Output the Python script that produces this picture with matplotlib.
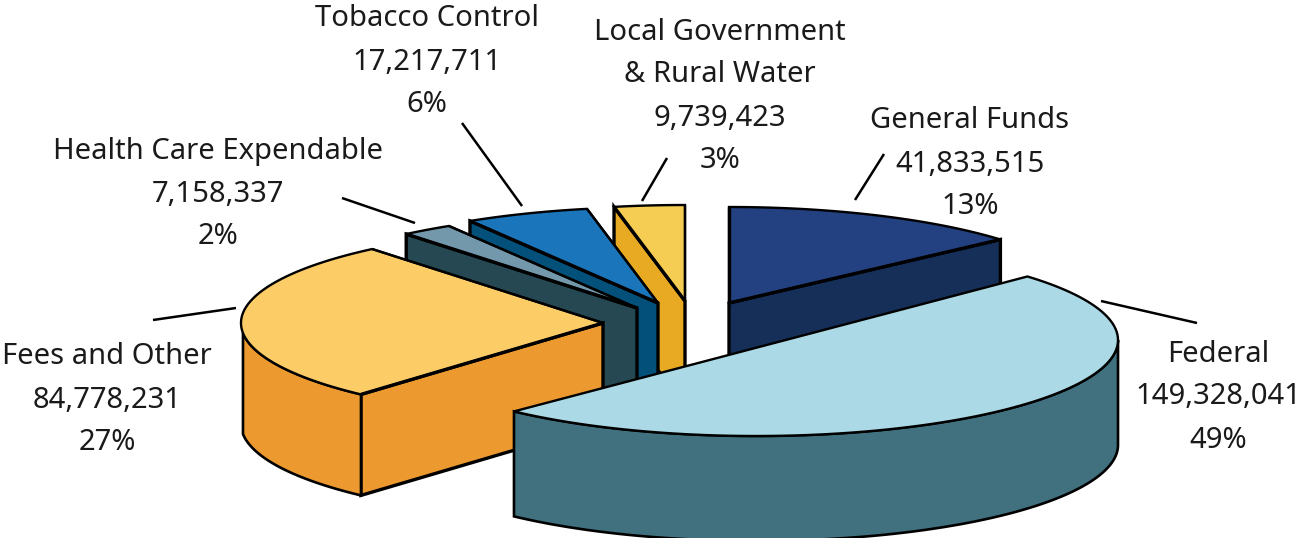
import numpy as np
import matplotlib
matplotlib.use("Agg")
import matplotlib.pyplot as plt
from matplotlib.patches import Polygon

names = ["General Funds", "Federal", "Fees and Other", "Health Care Expendable", "Tobacco Control",
         "Local Government\n& Rural Water"]
values = [41833515, 149328041, 84778231, 7158337, 17217711, 9739423]
percents = ["13%", "49%", "27%", "2%", "6%", "3%"]

top_colors = ["#234080", "#abd9e5", "#fccc66", "#7398ab", "#1b75bb", "#f4cd52"]
side_colors = ["#152f58", "#41717f", "#ec9a2f", "#254852", "#03517b", "#e8aa22"]

# apex of each slice on the page, pixels
centers = [(729, 303), (756, 340), (603, 323), (637, 308), (658, 303), (685, 301)]
depths = [105, 105, 101, 105, 105, 105]
label_pos = [(970, 118), (1218, 351), (107, 354), (218, 148), (427, 16), (720, 29)]
leaders = [((884, 154), (855, 200)), ((1101, 301), (1197, 323)), ((153, 320), (236, 308)),
           ((342, 198), (415, 223)), ((462, 123), (522, 206)), ((667, 158), (642, 201))]
draw_order = [0, 5, 4, 3, 2, 1]

RX = 362
RY = 96
LINE_H = 43
WALL_END = 264  # left corner of the wall sits a bit below the widest point

plt.rcParams["font.family"] = "Noto Sans"

fig = plt.figure(figsize=(12.99, 5.38), dpi=100)
ax = fig.add_axes([0, 0, 1, 1])
ax.set_xlim(0, 1299)
ax.set_ylim(538, 0)
ax.axis("off")


def rim(cx, cy, a0, a1):
    # angles clockwise from the top, degrees
    t = np.radians(np.linspace(a0, a1, 120))
    return np.column_stack([cx + RX * np.sin(t), cy - RY * np.cos(t)])


def shape(pts, color, lw=1.7):
    ax.add_patch(Polygon(pts, closed=True, facecolor=color, edgecolor="black", linewidth=lw, joinstyle="miter"))


edges = np.concatenate([[0], np.cumsum(values)]) / np.sum(values) * 360

for i in draw_order:
    cx, cy = centers[i]
    d = depths[i]
    a0, a1 = edges[i], edges[i + 1]
    side = side_colors[i]

    # cut faces that look towards the viewer
    for a, on in ((a0, 180 <= a0 < 360), (a1, 0 < a1 <= 180)):
        if on:
            p = rim(cx, cy, a, a)[0]
            shape([(cx, cy), p, (p[0], p[1] + d), (cx, cy + d)], side, 2.4)

    # outer wall, front half only
    w0, w1 = max(a0, 90), min(a1, WALL_END)
    if w0 < w1:
        arc = rim(cx, cy, w0, w1)
        low = arc[::-1] + [0, d]
        shape(np.vstack([arc, low]), side, 1.9)

    if a1 - a0 > 170:
        # nearly half the pie, the cut reads as one straight line
        shape(rim(cx, cy, a0, a1), top_colors[i], 1.7)
    else:
        shape(np.vstack([[(cx, cy)], rim(cx, cy, a0, a1)]), top_colors[i], 1.7)
        for a in (a0, a1):
            if a > 180 or a1 < 90:
                p = rim(cx, cy, a, a)[0]
                ax.plot([cx, p[0]], [cy, p[1]], color="black", linewidth=2.4 if a == a0 or a1 < 90 else 1.7,
                        solid_capstyle="butt")

for (p, q) in leaders:
    ax.plot([p[0], q[0]], [p[1], q[1]], color="black", linewidth=1.8, solid_capstyle="butt")

for i in range(len(names)):
    lines = names[i].split("\n") + [f"{values[i]:,}", percents[i]]
    x, y = label_pos[i]
    for k, line in enumerate(lines):
        ax.text(x, y + 3 + k * LINE_H, line, ha="center", va="center", fontsize=21, color="#1a1a1a")

fig.savefig("out.png", dpi=100)
